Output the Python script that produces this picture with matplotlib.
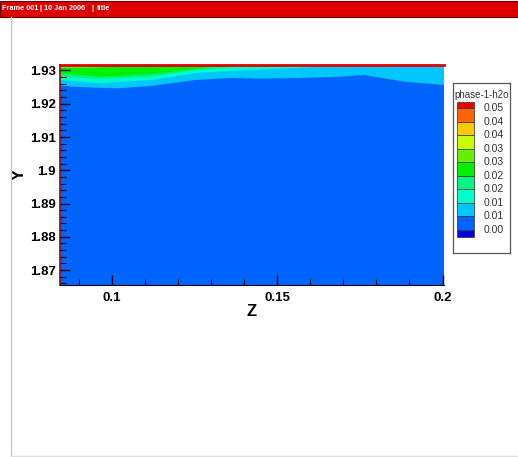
import numpy as np
import matplotlib
matplotlib.use("Agg")
import matplotlib.pyplot as plt
from matplotlib.patches import Rectangle
from matplotlib.lines import Line2D
from matplotlib.ticker import MultipleLocator

plt.rcParams['font.family'] = ['Liberation Sans', 'DejaVu Sans']

# axis ranges
z_min, z_max = 0.0842, 0.2003
y_min, y_max = 1.8655, 1.9318

# contour band boundaries (lower edge of each band), band continues up to the top
z_b1 = [0.0842, 0.0964, 0.1015, 0.1115, 0.1252, 0.1358, 0.1449, 0.1570, 0.1691, 0.1761, 0.1882, 0.2003]
y_b1 = [1.9255, 1.9249, 1.9248, 1.9255, 1.9273, 1.9279, 1.9277, 1.9279, 1.9283, 1.9288, 1.9268, 1.9258]
z_b2 = [0.0842, 0.0964, 0.1115, 0.1252, 0.1358, 0.1479, 0.1661, 0.1676]
y_b2 = [1.9273, 1.9264, 1.9273, 1.9294, 1.9300, 1.9306, 1.9314, 1.9318]
z_b3 = [0.0842, 0.0964, 0.1115, 0.1252, 0.1358, 0.1420]
y_b3 = [1.9282, 1.9276, 1.9283, 1.9302, 1.9310, 1.9318]
z_b4 = [0.0842, 0.0964, 0.1115, 0.1252, 0.1358]
y_b4 = [1.9292, 1.9283, 1.9290, 1.9307, 1.9318]
z_b5 = [0.0842, 0.0903, 0.0994, 0.1085]
y_b5 = [1.9309, 1.9309, 1.9312, 1.9318]

# legend (bottom-up)
level_colors = ['#0000e6', '#0064ff', '#00c8ff', '#00ffc8', '#00f582', '#00f000',
                '#64f000', '#c8ff00', '#ffc800', '#ff6400', '#f00000']
level_labels = ['0.00', '0.01', '0.01', '0.02', '0.02', '0.03', '0.03', '0.04', '0.04', '0.05']

fig = plt.figure(figsize=(5.18, 4.57), dpi=100)
W, H = 518.0, 457.0

# header bar
fig.patches.append(Rectangle((0, 1 - 16.5 / H), 1, 15.5 / H, transform=fig.transFigure,
                             facecolor='#dc0000', edgecolor='#600000', lw=0.8))
hdr = [('Frame 001', 2), ('|', 39), ('10 Jan 2006', 44), ('|', 91), ('title', 97)]
for s, px in hdr:
    fig.text(px / W, 1 - 9 / H, s, color='white', fontsize=5.3, fontweight='bold',
             va='center', ha='left')

# frame border
fig.lines.append(Line2D([11 / W, 11 / W], [1 - 17 / H, 1 - 456 / H], transform=fig.transFigure,
                        color='#c8c8c8', lw=1))
fig.lines.append(Line2D([11 / W, 1], [1 - 456 / H, 1 - 456 / H], transform=fig.transFigure,
                        color='#e0e0e0', lw=1))

ax = fig.add_axes([60 / W, 1 - 285 / H, 383.5 / W, 220.5 / H])
ax.fill_between([z_min, z_max], y_min, y_max, color=level_colors[1], lw=0)
bands = [(z_b1, y_b1, 2), (z_b2, y_b2, 3), (z_b3, y_b3, 4), (z_b4, y_b4, 5), (z_b5, y_b5, 6)]
for zz, yy, ci in bands:
    ax.fill_between(zz, yy, y_max, color=level_colors[ci], lw=0)

ax.set_xlim(z_min, z_max)
ax.set_ylim(y_min, y_max)
ax.xaxis.set_major_locator(MultipleLocator(0.05))
ax.xaxis.set_minor_locator(MultipleLocator(0.01))
ax.yaxis.set_major_locator(MultipleLocator(0.01))
ax.yaxis.set_minor_locator(MultipleLocator(0.002))
ax.xaxis.set_major_formatter(plt.FuncFormatter(lambda v, p: f'{v:g}'))
ax.yaxis.set_major_formatter(plt.FuncFormatter(lambda v, p: f'{v:.2f}'.rstrip('0')))
ax.tick_params(which='both', direction='in', colors='black')
ax.tick_params(which='major', length=7, width=1)
ax.tick_params(which='minor', length=4, width=0.8)
ax.tick_params(axis='x', which='major', pad=5)
ax.tick_params(axis='y', which='major', pad=3)
for lab in ax.get_xticklabels() + ax.get_yticklabels():
    lab.set_fontweight('bold')
    lab.set_fontsize(9.5)
ax.spines['right'].set_visible(False)
ax.spines['top'].set_color('#e00000')
ax.spines['top'].set_linewidth(2)
ax.spines['left'].set_color('#801010')
ax.spines['left'].set_linewidth(1.2)
ax.spines['bottom'].set_color('black')
ax.set_xlabel('Z', fontsize=12, fontweight='bold', labelpad=0)
ax.set_ylabel('Y', fontsize=12, fontweight='bold', labelpad=2)

# contour legend
lax = fig.add_axes([452.5 / W, 1 - 253 / H, 57.5 / W, 170 / H])
lax.set_xlim(0, 57.5)
lax.set_ylim(-1.70, 10.87)
lax.set_xticks([])
lax.set_yticks([])
for sp in lax.spines.values():
    sp.set_color('#555555')
    sp.set_linewidth(0.9)
bottoms = [-0.5] + list(range(0, 10))
heights = [0.5] + [1] * 9 + [0.5]
lax.bar([13] * 11, heights, width=17, bottom=bottoms, color=level_colors,
        edgecolor='#303030', lw=0.5)
for i, s in enumerate(level_labels):
    lax.text(41.5, i, s, fontsize=7.5, ha='center', va='center', color='#333333')
lax.text(29, 9.95, 'phase-1-h2o', fontsize=7, ha='center', va='center', color='#333333')

fig.savefig('out.png', dpi=100)
